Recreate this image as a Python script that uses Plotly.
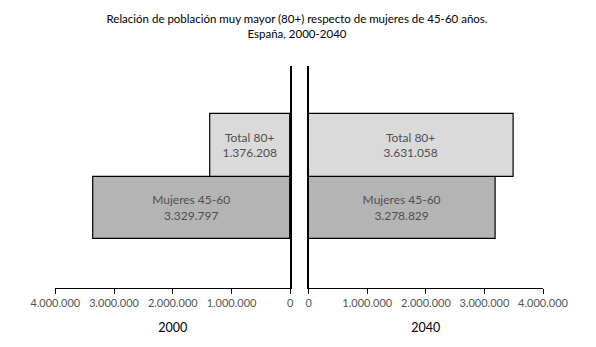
import plotly.graph_objects as go

categories = ["Mujeres 45-60", "Total 80+"]
# bar lengths as drawn in the picture
bars_2000 = [3356000, 1363000]
bars_2040 = [3190000, 3500000]
# value labels printed in the bars
labels_2000 = ["3.329.797", "1.376.208"]
labels_2040 = ["3.278.829", "3.631.058"]
colors = ["#b4b4b4", "#dadada"]
tick_vals = [0, 1000000, 2000000, 3000000, 4000000]
tick_text = ["0", "1.000.000", "2.000.000", "3.000.000", "4.000.000"]
years = ["2000", "2040"]

FONT = "Lato, 'Open Sans', sans-serif"
OFF = 8  # default page margin of the html body
W, H = 596 - OFF, 347 - OFF

fig = go.Figure()
for xa, ya, vals, labs in [("x", "y", bars_2000, labels_2000), ("x2", "y2", bars_2040, labels_2040)]:
    fig.add_trace(go.Bar(
        y=list(range(len(categories))), x=vals, orientation="h",
        xaxis=xa, yaxis=ya, width=1,
        marker=dict(color=colors, line=dict(color="black", width=1.2)),
        text=[f"{c}<br>{l}" for c, l in zip(categories, labs)],
        textposition="inside", insidetextanchor="middle", textangle=0,
        textfont=dict(family=FONT, size=12, color="#505050"),
        constraintext="none", showlegend=False, hoverinfo="skip",
    ))

l0, l1 = (55.3 - OFF) / W, (290.3 - OFF) / W
r0, r1 = (308.7 - OFF) / W, (543.0 - OFF) / W
yr = [-1.28, 2.274]

axis_common = dict(
    tickvals=tick_vals, ticktext=tick_text, ticks="outside", ticklen=5, tickangle=0,
    tickcolor="black", tickwidth=1.2, showline=True, linecolor="black", linewidth=1.3,
    showgrid=False, zeroline=False, tickfont=dict(family=FONT, size=11, color="#555555"),
    title_font=dict(family=FONT, size=12.5, color="black"), title_standoff=14,
    fixedrange=True, automargin=False,
)
fig.update_layout(
    width=W, height=H, margin=dict(l=0, r=0, t=66 - OFF, b=H - (288.3 - OFF)),
    plot_bgcolor="white", paper_bgcolor="white", bargap=0,
    xaxis=dict(domain=[l0, l1], range=[4000000, 0], anchor="y", title_text=years[0], **axis_common),
    xaxis2=dict(domain=[r0, r1], range=[0, 4000000], anchor="y2", title_text=years[1], **axis_common),
    yaxis=dict(domain=[0, 1], range=yr, anchor="x", side="right", showline=True, linecolor="black",
               linewidth=1.5, showticklabels=False, ticks="", showgrid=False, zeroline=False, automargin=False),
    yaxis2=dict(domain=[0, 1], range=yr, anchor="x2", side="left", showline=True, linecolor="black",
                linewidth=1.5, showticklabels=False, ticks="", showgrid=False, zeroline=False, automargin=False),
    title=dict(text="Relación de población muy mayor (80+) respecto de mujeres de 45-60 años.<br>España, 2000-2040",
               x=(297 - OFF) / W, xanchor="center", y=1 - (23 - OFF) / H, yanchor="middle", yref="container",
               font=dict(family=FONT, size=11.5, color="black")),
)
fig.write_html("out.html")
